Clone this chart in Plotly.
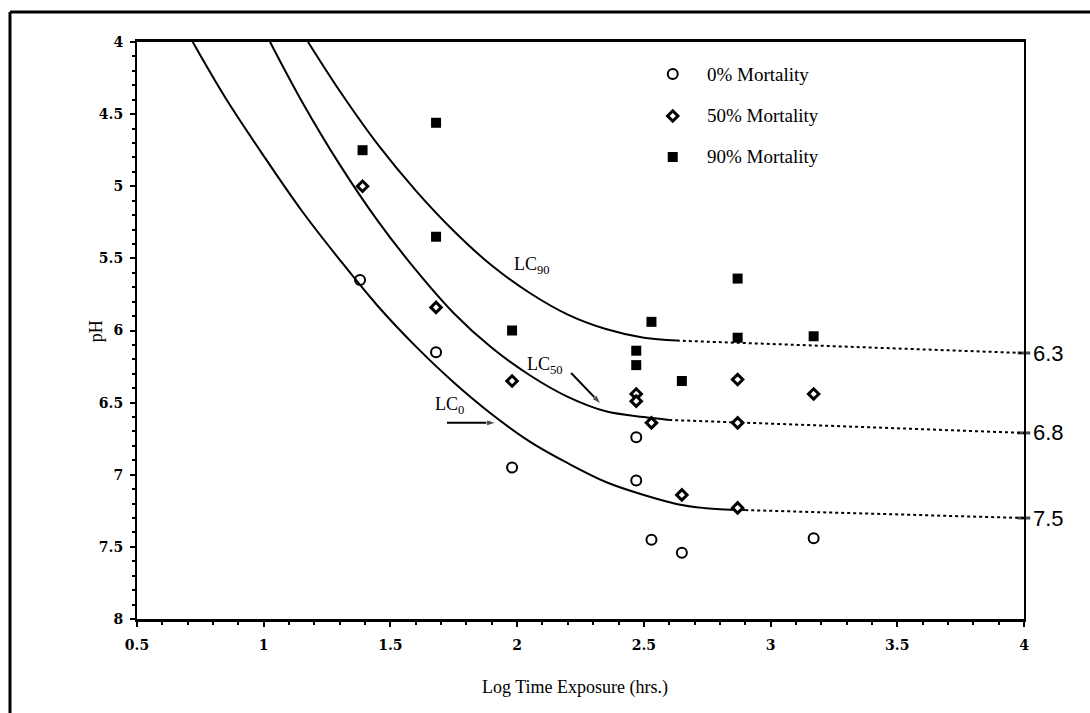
import plotly.graph_objects as go

# ---------------- data ----------------
# observed points (x = log time exposure, y = pH)
x_mort0 = [1.38, 1.68, 1.98, 2.47, 2.47, 2.53, 2.65, 3.17]
y_mort0 = [5.65, 6.15, 6.95, 6.74, 7.04, 7.45, 7.54, 7.44]

x_mort50 = [1.39, 1.68, 1.98, 2.47, 2.47, 2.53, 2.65, 2.87, 2.87, 2.87, 3.17]
y_mort50 = [5.00, 5.84, 6.35, 6.44, 6.49, 6.64, 7.14, 6.34, 6.64, 7.23, 6.44]

x_mort90 = [1.39, 1.68, 1.68, 1.98, 2.47, 2.47, 2.53, 2.65, 2.87, 2.87, 3.17]
y_mort90 = [4.75, 4.56, 5.35, 6.00, 6.14, 6.24, 5.94, 6.35, 5.64, 6.05, 6.04]

# fitted curves (solid part)
x_lc0 = [0.72, 0.85, 1.00, 1.15, 1.30, 1.45, 1.60, 1.75, 1.90, 2.05, 2.20, 2.35, 2.50, 2.65, 2.80, 2.90]
y_lc0 = [4.00, 4.39, 4.79, 5.17, 5.51, 5.83, 6.11, 6.36, 6.58, 6.77, 6.92, 7.05, 7.14, 7.21, 7.24, 7.245]

x_lc50 = [1.025, 1.15, 1.30, 1.45, 1.60, 1.75, 1.90, 2.05, 2.20, 2.35, 2.50, 2.60]
y_lc50 = [4.00, 4.41, 4.85, 5.24, 5.58, 5.88, 6.12, 6.31, 6.46, 6.56, 6.60, 6.62]

x_lc90 = [1.175, 1.30, 1.45, 1.60, 1.75, 1.90, 2.05, 2.20, 2.35, 2.50, 2.63]
y_lc90 = [4.00, 4.34, 4.71, 5.03, 5.31, 5.55, 5.74, 5.89, 5.99, 6.05, 6.07]

# dotted extrapolations
x_ext0, y_ext0 = [2.90, 4.0], [7.245, 7.30]
x_ext50, y_ext50 = [2.60, 4.0], [6.62, 6.71]
x_ext90, y_ext90 = [2.63, 4.0], [6.07, 6.156]
end_labels = ["7.5", "6.8", "6.3"]

# pointer arrows (tail -> head)
x_arrow50, y_arrow50 = [2.213, 2.331], [6.295, 6.51]
x_arrow0, y_arrow0 = [1.723, 1.917], [6.64, 6.64]

legend_names = ["0% Mortality", "50% Mortality", "90% Mortality"]
x_ticks = [0.5, 1, 1.5, 2, 2.5, 3, 3.5, 4]
y_ticks = [4, 4.5, 5, 5.5, 6, 6.5, 7, 7.5, 8]

# ---------------- styles ----------------
BLACK = "black"
SERIF = "Liberation Serif, Times New Roman, serif"
sym0 = dict(symbol="circle-open", size=10, color=BLACK, line=dict(width=2, color=BLACK))
sym50 = dict(symbol="diamond", size=8, color="white", line=dict(width=3, color=BLACK))
sym90 = dict(symbol="square", size=10, color=BLACK, line=dict(width=0))

fig = go.Figure()

for xs, ys in [(x_lc0, y_lc0), (x_lc50, y_lc50), (x_lc90, y_lc90)]:
    fig.add_trace(go.Scatter(x=xs, y=ys, mode="lines",
                             line=dict(color=BLACK, width=2, shape="spline", smoothing=1.0),
                             showlegend=False, hoverinfo="skip"))

for xs, ys in [(x_ext0, y_ext0), (x_ext50, y_ext50), (x_ext90, y_ext90)]:
    fig.add_trace(go.Scatter(x=xs, y=ys, mode="lines+markers",
                             line=dict(color=BLACK, width=2, dash="dot"),
                             marker=dict(symbol="line-ew", size=[0, 9],
                                         line=dict(color=BLACK, width=3)),
                             cliponaxis=False, showlegend=False, hoverinfo="skip"))

for xs, ys in [(x_arrow50, y_arrow50), (x_arrow0, y_arrow0)]:
    fig.add_trace(go.Scatter(x=xs, y=ys, mode="lines+markers",
                             line=dict(color=BLACK, width=2),
                             marker=dict(symbol="arrow", size=[0, 10], angleref="previous",
                                         color=BLACK),
                             showlegend=False, hoverinfo="skip"))

fig.add_trace(go.Scatter(x=x_mort0, y=y_mort0, mode="markers", marker=sym0, showlegend=False))
fig.add_trace(go.Scatter(x=x_mort50, y=y_mort50, mode="markers", marker=sym50, showlegend=False))
fig.add_trace(go.Scatter(x=x_mort90, y=y_mort90, mode="markers", marker=sym90, showlegend=False))

# custom legend on an overlay axis (0..1 = plot area)
leg_y = [0.9445, 0.8718, 0.8007]
leg_sym_x = 0.604
leg_txt_x = 0.640
for sym, yy in zip([sym0, sym50, sym90], leg_y):
    fig.add_trace(go.Scatter(x=[leg_sym_x], y=[yy], xaxis="x2", yaxis="y2", mode="markers",
                             marker=sym, showlegend=False, hoverinfo="skip"))

annotations = []
for name, yy in zip(legend_names, leg_y):
    annotations.append(dict(xref="paper", yref="paper", x=leg_txt_x, y=yy, text=name,
                            showarrow=False, xanchor="left", yanchor="middle",
                            font=dict(family=SERIF, size=19, color=BLACK)))

# curve labels
lab_font = dict(family=SERIF, size=18, color=BLACK)
annotations += [
    dict(x=1.98, y=5.55, text="LC<sub>90</sub>", showarrow=False, xanchor="left",
         yanchor="middle", font=lab_font),
    dict(x=2.03, y=6.24, text="LC<sub>50</sub>", showarrow=False, xanchor="left",
         yanchor="middle", font=lab_font),
    dict(x=1.668, y=6.52, text="LC<sub>0</sub>", showarrow=False, xanchor="left",
         yanchor="middle", font=lab_font),
]
for txt, yy in zip(end_labels, [y_ext0[1], y_ext50[1], y_ext90[1]]):
    annotations.append(dict(x=4.0, y=yy, text=txt, showarrow=False, xanchor="left",
                            yanchor="middle", xshift=7,
                            font=dict(family="Liberation Sans, Arial, sans-serif", size=22,
                                      color=BLACK)))

# axis titles
annotations += [
    dict(xref="paper", yref="paper", x=0.494, y=-0.118, text="Log Time Exposure (hrs.)",
         showarrow=False, xanchor="center", yanchor="middle",
         font=dict(family=SERIF, size=18, color=BLACK)),
    dict(xref="paper", yref="paper", x=-0.046, y=0.499, text="pH", textangle=-90,
         showarrow=False, xanchor="center", yanchor="middle",
         font=dict(family=SERIF, size=18, color=BLACK)),
]

tick_font = dict(family="DejaVu Serif, serif", size=14, color=BLACK, weight="bold")

fig.update_layout(
    width=1090, height=713,
    margin=dict(l=137, r=66, t=42, b=94),
    paper_bgcolor="white", plot_bgcolor="white",
    showlegend=False,
    xaxis=dict(range=[0.5, 4], tickvals=x_ticks, ticktext=[f"{v:g}" for v in x_ticks],
               showgrid=False, zeroline=False, showline=True, linewidth=3, linecolor=BLACK,
               mirror=True, ticks="outside", ticklen=5, tickwidth=2, tickcolor=BLACK,
               tickfont=tick_font, ticklabelstandoff=6,
               minor=dict(dtick=0.1, ticks="outside", ticklen=3, tickwidth=2,
                          tickcolor=BLACK, showgrid=False)),
    yaxis=dict(range=[8, 4], tickvals=y_ticks, ticktext=[f"{v:g}" for v in y_ticks],
               showgrid=False, zeroline=False, showline=True, linewidth=2, linecolor=BLACK,
               mirror=True, ticks="outside", ticklen=5, tickwidth=2, tickcolor=BLACK,
               tickfont=tick_font, ticklabelstandoff=4,
               minor=dict(dtick=0.1, ticks="outside", ticklen=3, tickwidth=2,
                          tickcolor=BLACK, showgrid=False)),
    xaxis2=dict(overlaying="x", range=[0, 1], visible=False, fixedrange=True),
    yaxis2=dict(overlaying="y", range=[0, 1], visible=False, fixedrange=True),
    annotations=annotations,
    shapes=[
        dict(type="line", xref="paper", yref="paper", x0=-0.1432, x1=-0.1432,
             y0=1.052, y1=-0.17, line=dict(color=BLACK, width=3)),
        dict(type="line", xref="paper", yref="paper", x0=-0.1432, x1=1.08,
             y0=1.052, y1=1.052, line=dict(color=BLACK, width=3)),
    ],
)

fig.write_html("out.html")
